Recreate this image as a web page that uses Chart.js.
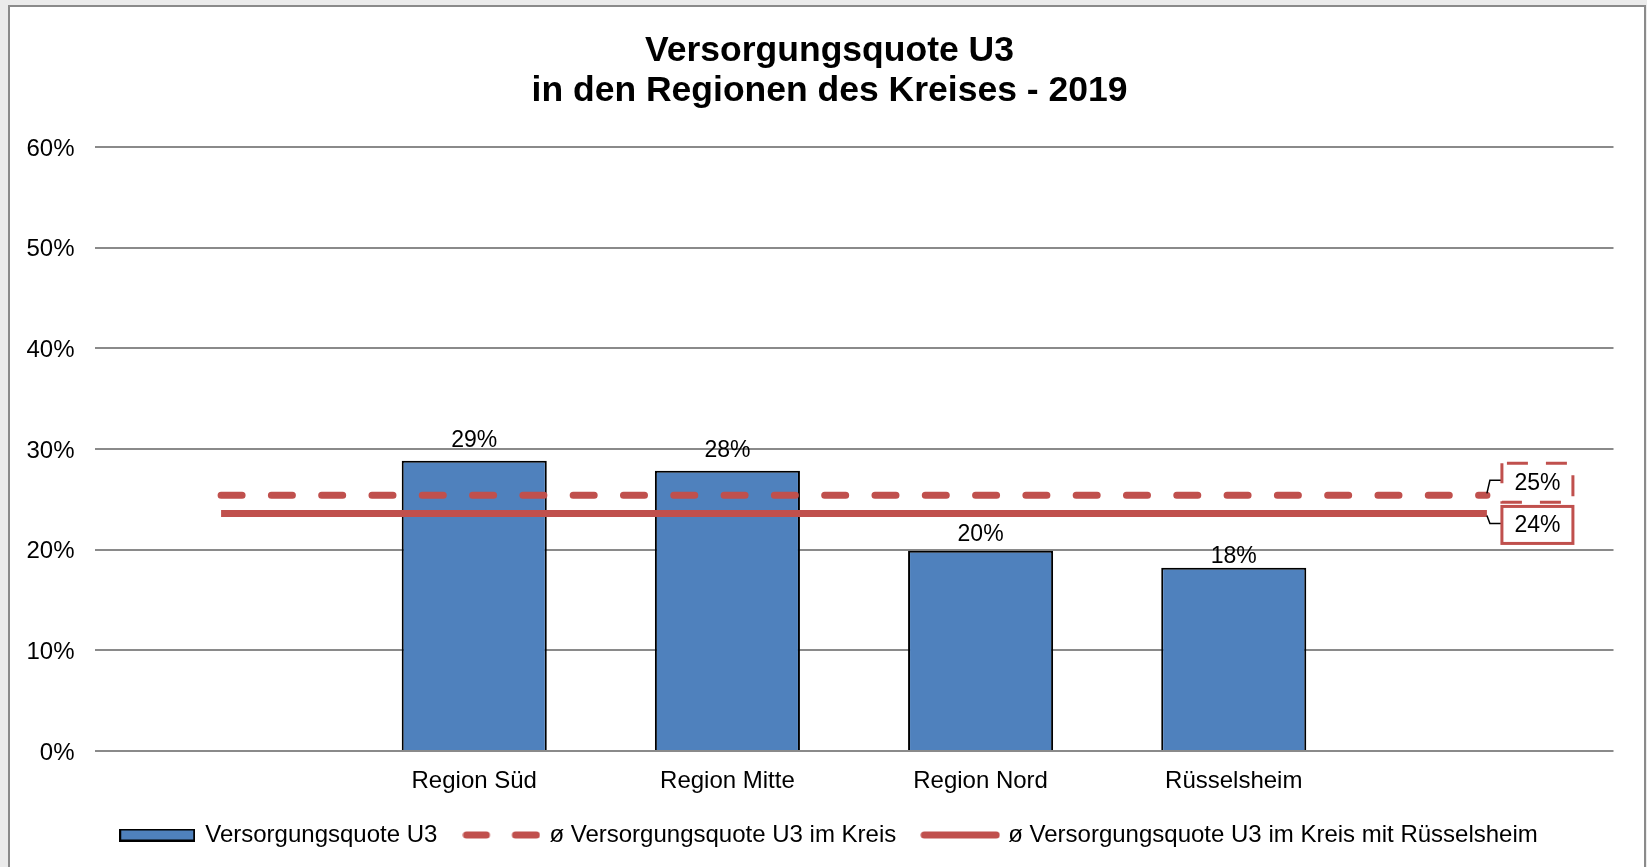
<!DOCTYPE html>
<html>
<head>
<meta charset="utf-8">
<script src="https://cdn.jsdelivr.net/npm/chart.js@4.4.1/dist/chart.umd.min.js"></script>
<style>
  html, body { margin: 0; padding: 0; background: #ebebeb; overflow: hidden; }
  .frame { position: absolute; left: 8px; top: 5px; width: 1634px; height: 880px; background: #fff; border: 2px solid #8a8a8a; }
  canvas { display: block; }
</style>
</head>
<body>
<div class="frame"><canvas id="chart" width="1634" height="860"></canvas></div>
<script>
// Data (empty first/last slots so the average lines run past the bars)
const categories = ['', 'Region Süd', 'Region Mitte', 'Region Nord', 'Rüsselsheim', ''];
const quoteValues = [null, 28.84, 27.84, 19.9, 18.2, null];
const kreisAvg = [25.4, 25.4, 25.4, 25.4, 25.4, 25.4];
const kreisRuessAvg = [23.6, 23.6, 23.6, 23.6, 23.6, 23.6];
const seriesNames = ['Versorgungsquote U3', 'ø Versorgungsquote U3 im Kreis', 'ø Versorgungsquote U3 im Kreis mit Rüsselsheim'];
const titleLines = ['Versorgungsquote U3', 'in den Regionen des Kreises - 2019'];
const yMin = 0, yMax = 60, yStep = 10;

const FONT = '"Liberation Sans", Arial, sans-serif';
const BLUE = '#4f81bd';
const RED = '#c0504d';

// Legend swatches
const makeSwatch = (w, h, draw) => {
    const c = document.createElement('canvas');
    c.width = w; c.height = h;
    draw(c.getContext('2d'));
    return c;
};
const barSwatch = makeSwatch(76, 13, g => {
    g.fillStyle = BLUE; g.fillRect(1, 1, 74, 11);
    g.strokeStyle = '#000'; g.lineWidth = 2; g.strokeRect(1, 1, 74, 11);
});
const dashSwatch = makeSwatch(78, 8, g => {
    g.strokeStyle = RED; g.lineWidth = 7; g.lineCap = 'round';
    g.beginPath(); g.moveTo(4, 4); g.lineTo(24, 4); g.moveTo(53, 4); g.lineTo(74, 4); g.stroke();
});
const lineSwatch = makeSwatch(80, 8, g => {
    g.strokeStyle = RED; g.lineWidth = 7; g.lineCap = 'round';
    g.beginPath(); g.moveTo(4, 4); g.lineTo(76, 4); g.stroke();
});
const swatches = [barSwatch, dashSwatch, lineSwatch];

// Value labels above the bars (gap between baseline and bar top, as placed in the original)
const labelGaps = [0, 13.5, 14, 10, 4.5, 0];
const barLabels = {
    id: 'barLabels',
    afterDatasetsDraw(chart) {
        const ctx = chart.ctx;
        const meta = chart.getDatasetMeta(0);
        ctx.save();
        ctx.font = '23px ' + FONT;
        ctx.fillStyle = '#000';
        ctx.textAlign = 'center';
        ctx.textBaseline = 'alphabetic';
        meta.data.forEach((bar, i) => {
            const v = quoteValues[i];
            if (v == null) return;
            ctx.fillText(Math.round(v) + '%', bar.x, bar.y - labelGaps[i]);
        });
        ctx.restore();
    }
};

// Boxed labels at the right end of the average lines
const endLabels = {
    id: 'endLabels',
    afterDatasetsDraw(chart) {
        const ctx = chart.ctx;
        const draw = (dsIndex, up, dash) => {
            const meta = chart.getDatasetMeta(dsIndex);
            const pt = meta.data[meta.data.length - 1];
            const v = chart.data.datasets[dsIndex].data[meta.data.length - 1];
            const bx = pt.x + 15, w = 71;
            const by = up ? pt.y - 32 : pt.y - 7;
            const h = up ? 39 : 37;
            const ly = up ? pt.y - 15 : pt.y + 10;
            ctx.save();
            ctx.strokeStyle = '#000';
            ctx.lineWidth = 1.5;
            ctx.beginPath();
            ctx.moveTo(pt.x, pt.y + (up ? -2 : 2));
            ctx.lineTo(pt.x + 3, ly);
            ctx.lineTo(bx, ly);
            ctx.stroke();
            ctx.fillStyle = '#fff';
            ctx.fillRect(bx, by, w, h);
            ctx.strokeStyle = RED;
            ctx.lineWidth = 3;
            ctx.setLineDash(dash);
            ctx.lineDashOffset = -5;
            ctx.strokeRect(bx, by, w, h);
            ctx.setLineDash([]);
            ctx.fillStyle = '#000';
            ctx.font = '23px ' + FONT;
            ctx.textAlign = 'center';
            ctx.textBaseline = 'middle';
            ctx.fillText(Math.round(v) + '%', bx + w / 2, by + h / 2 + 1);
            ctx.restore();
        };
        draw(1, true, [21, 18]);
        draw(2, false, []);
    }
};

new Chart(document.getElementById('chart'), {
    data: {
        labels: categories,
        datasets: [
            {
                type: 'bar',
                label: seriesNames[0],
                data: quoteValues,
                backgroundColor: BLUE,
                borderColor: '#000',
                borderWidth: 2,
                barPercentage: 0.573,
                categoryPercentage: 1,
                order: 3
            },
            {
                type: 'line',
                label: seriesNames[1],
                data: kreisAvg,
                borderColor: RED,
                borderWidth: 7,
                borderDash: [21, 29.3],
                borderCapStyle: 'round',
                pointRadius: 0,
                order: 1
            },
            {
                type: 'line',
                label: seriesNames[2],
                data: kreisRuessAvg,
                borderColor: RED,
                borderWidth: 7,
                pointRadius: 0,
                order: 2
            }
        ]
    },
    options: {
        responsive: false,
        animation: false,
        devicePixelRatio: 1,
        events: [],
        layout: { padding: { left: 9.5, right: 4.5, top: 0, bottom: 10 } },
        scales: {
            x: {
                grid: { display: false },
                border: { display: false },
                ticks: { color: '#000', font: { family: FONT, size: 24 }, padding: 7.5, autoSkip: false, maxRotation: 0 },
                afterFit: s => { s.height = 44; }
            },
            y: {
                min: yMin,
                max: yMax,
                grid: { color: '#8a8a8a', lineWidth: 2, drawTicks: false },
                border: { display: false },
                ticks: {
                    stepSize: yStep,
                    color: '#000',
                    font: { family: FONT, size: 24 },
                    padding: 20,
                    labelOffset: 2,
                    callback: v => v + '%'
                },
                afterFit: s => { s.width = 75; }
            },
            // empty right-hand spacer so title and legend centre like the original
            y2: {
                position: 'right',
                min: yMin,
                max: yMax,
                grid: { display: false },
                border: { display: false },
                ticks: { display: false },
                afterFit: s => { s.width = 26; }
            }
        },
        plugins: {
            tooltip: { enabled: false },
            title: {
                display: true,
                text: titleLines,
                color: '#000',
                font: { family: FONT, size: 35.5, weight: 'bold', lineHeight: 40 / 35.5 },
                padding: { top: 24, bottom: 36 }
            },
            legend: {
                position: 'bottom',
                labels: {
                    color: '#000',
                    font: { family: FONT, size: 24 },
                    padding: 28,
                    usePointStyle: true,
                    pointStyleWidth: 72,
                    generateLabels: chart => chart.data.datasets.map((ds, i) => ({
                        text: ds.label,
                        datasetIndex: i,
                        pointStyle: swatches[i],
                        fontColor: '#000',
                        hidden: false,
                        lineWidth: 0
                    }))
                }
            }
        }
    },
    plugins: [barLabels, endLabels]
});
</script>
</body>
</html>
